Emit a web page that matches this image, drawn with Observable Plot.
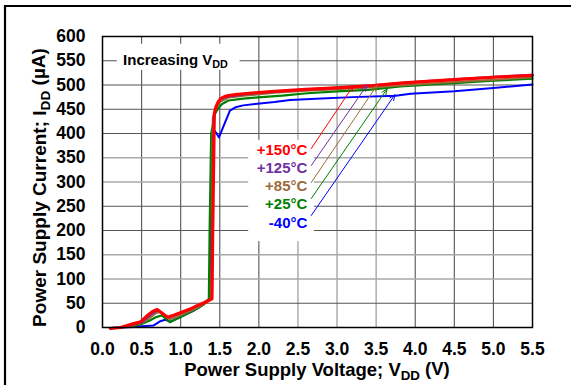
<!DOCTYPE html>
<html>
<head>
<meta charset="utf-8">
<script src="https://cdn.jsdelivr.net/npm/d3@7"></script>
<script src="https://cdn.jsdelivr.net/npm/@observablehq/plot@0.6"></script>
<style>
  html, body { margin: 0; padding: 0; background: #fff; }
  #chart { width: 571px; height: 385px; position: relative; }
  svg { overflow: visible; }
</style>
</head>
<body>
<div id="chart"></div>
<script>
// ---- Data ----
const xTicks = [0, 0.5, 1.0, 1.5, 2.0, 2.5, 3.0, 3.5, 4.0, 4.5, 5.0, 5.5];
const yTicks = [0, 50, 100, 150, 200, 250, 300, 350, 400, 450, 500, 550, 600];
const xGridDark = [0.5, 1.0, 1.5, 2.0, 4.0, 4.5, 5.0];
const xGridLight = [2.5, 3.0, 3.5];
const yGridDark = [50, 200, 250, 400, 450, 500, 550];
const yGridLight = [100, 150, 300, 350];

const seriesNames = ["+150°C", "+125°C", "+85°C", "+25°C", "-40°C"];
const seriesColors = ["#ff0000", "#7030a0", "#9c6b3a", "#008000", "#0000ff"];

// +150°C
const vRed = [0.10,0.23,0.40,0.49,0.57,0.64,0.70,0.76,0.83,0.92,1.02,1.12,1.21,1.30,1.40,1.41,1.43,1.45,1.48,1.51,1.56,1.61,1.70,1.80,1.95,2.20,2.60,3.00,3.40,3.81,4.20,4.60,5.00,5.50];
const iRed = [-2,0,8,12,24,33,37,30,21,26,32,38,45,51,59,200,440,455,465,472,476,478,480,482,484,487,491,494,498,504,508,512,516,520];
// +125°C
const vPur = [0.10,0.23,0.40,0.50,0.58,0.65,0.71,0.77,0.84,0.93,1.02,1.12,1.21,1.30,1.40,1.41,1.42,1.45,1.48,1.51,1.56,1.61,1.70,1.80,1.95,2.20,2.60,3.00,3.40,3.81,4.20,4.60,5.00,5.50];
const iPur = [-1,0,6,10,21,30,35,29,20,25,31,37,44,51,59,200,435,452,463,470,474,476,478,480,483,486,491,495,499,504,509,513,517,521];
// +85°C
const vBrn = [0.10,0.25,0.40,0.50,0.60,0.66,0.72,0.79,0.86,0.95,1.05,1.15,1.25,1.34,1.39,1.40,1.41,1.44,1.48,1.51,1.56,1.61,1.70,1.80,1.95,2.20,2.60,3.00,3.53,4.00,4.50,5.00,5.50];
const iBrn = [-1,0,5,9,19,27,32,26,17,22,29,36,44,53,59,200,430,448,460,466,470,474,476,478,480,484,488,491,496,501,506,511,516];
// +25°C
const vGrn = [0.10,0.25,0.40,0.50,0.60,0.68,0.76,0.81,0.86,0.95,1.05,1.20,1.30,1.36,1.37,1.39,1.44,1.48,1.53,1.61,1.80,1.95,2.30,2.62,3.00,3.40,3.81,4.50,5.00,5.50];
const iGrn = [-1,0,3,7,14,21,25,18,11,18,26,38,48,58,200,400,441,452,461,468,472,474,478,483,487,490,497,504,509,513];
// -40°C
const vBlu = [0.10,0.25,0.40,0.55,0.65,0.74,0.80,0.87,0.99,1.08,1.17,1.26,1.34,1.37,1.38,1.40,1.43,1.46,1.49,1.56,1.63,1.70,1.80,1.95,2.20,2.40,2.80,3.20,3.75,3.94,4.50,5.00,5.50];
const iBlu = [-2,0,1,3,4,13,16,12,21,28,35,44,56,60,200,380,406,400,392,420,447,454,458,461,465,469,472,475,478,482,487,494,501];

// label positions and arrows
const labelX = [2.62, 2.62, 2.62, 2.62, 2.62];
const labelY = [365, 328, 291, 254, 216];
const arrowX1 = [2.67, 2.67, 2.67, 2.67, 2.67];
const arrowY1 = [369, 334, 299, 266, 231];
const arrowX2 = [3.21, 3.38, 3.51, 3.64, 3.74];
const arrowY2 = [499, 499, 499, 492, 480];

const toPts = (xs, ys) => xs.map((x, i) => ({x, y: ys[i]}));
const seriesData = [toPts(vRed, iRed), toPts(vPur, iPur), toPts(vBrn, iBrn), toPts(vGrn, iGrn), toPts(vBlu, iBlu)];
const widths = [3.2, 2, 2, 2.2, 2];
const labels = seriesNames.map((name, i) => ({name, x: labelX[i], y: labelY[i], color: seriesColors[i]}));
const arrows = seriesNames.map((name, i) => ({x1: arrowX1[i], y1: arrowY1[i], x2: arrowX2[i], y2: arrowY2[i], color: seriesColors[i]}));

const FONT = "'Liberation Sans', Arial, Helvetica, sans-serif";

const lineMarks = [4, 3, 2, 1, 0].map(i =>
  Plot.line(seriesData[i], {x: "x", y: "y", stroke: seriesColors[i], strokeWidth: widths[i], strokeLinejoin: "round", strokeLinecap: "round"})
);

const chart = Plot.plot({
  width: 571,
  height: 385,
  marginLeft: 102,
  marginRight: 39,
  marginTop: 36,
  marginBottom: 58,
  style: {fontFamily: FONT, fontWeight: "bold", fontSize: "17.5px", color: "#000", background: "#fff"},
  x: {domain: [0, 5.5], ticks: xTicks, tickFormat: d => d.toFixed(1), tickSize: 0, tickPadding: 15, label: null},
  y: {domain: [0, 600], ticks: yTicks, tickFormat: d => String(d), tickSize: 0, tickPadding: 17, label: null},
  marks: [
    Plot.ruleX(xGridLight, {stroke: "#a0a0a0", strokeWidth: 1.3}),
    Plot.ruleX(xGridDark, {stroke: "#555", strokeWidth: 1.1}),
    Plot.ruleY(yGridLight, {stroke: "#a8a8a8", strokeWidth: 1.3}),
    Plot.ruleY(yGridDark, {stroke: "#555", strokeWidth: 1.1}),
    // white boxes behind annotation texts
    Plot.rect([{x1: 0.19, x2: 1.76, y1: 530, y2: 584}], {x1: "x1", x2: "x2", y1: "y1", y2: "y2", fill: "#fff"}),
    Plot.rect([{x1: 1.87, x2: 2.71, y1: 177, y2: 386}], {x1: "x1", x2: "x2", y1: "y1", y2: "y2", fill: "#fff"}),
    ...lineMarks,
    Plot.arrow(arrows, {x1: "x1", y1: "y1", x2: "x2", y2: "y2", stroke: "color", strokeWidth: 1, headLength: 9, headAngle: 45}),
    Plot.text(labels, {x: "x", y: "y", text: "name", fill: "color", textAnchor: "end", fontSize: 15, fontWeight: "bold", fontFamily: FONT}),
    Plot.frame({stroke: "#000", strokeWidth: 1.5})
  ]
});

document.getElementById("chart").appendChild(chart);

// Texts with subscripts, placed via the chart's own scales
const svg = d3.select(chart);
const sx = chart.scale("x"), sy = chart.scale("y");

function addSubText(g, parts) {
  parts.forEach(p => {
    const t = g.append("tspan").text(p.t);
    if (p.sub) t.attr("font-size", "72%").attr("dy", "0.28em");
    else if (p.after) t.attr("dy", "-0.28em");
  });
}

// "Increasing VDD"
const inc = svg.append("text")
  .attr("x", sx.apply(0.27)).attr("y", sy.apply(540))
  .attr("text-anchor", "start")
  .attr("font-family", FONT).attr("font-weight", "bold").attr("font-size", 15).attr("fill", "#000");
addSubText(inc, [{t: "Increasing V"}, {t: "DD", sub: true}]);

// x-axis label
const xl = svg.append("text")
  .attr("x", (sx.range[0] + sx.range[1]) / 2).attr("y", 376)
  .attr("text-anchor", "middle")
  .attr("font-family", FONT).attr("font-weight", "bold").attr("font-size", 18.5).attr("fill", "#000");
addSubText(xl, [{t: "Power Supply Voltage; V"}, {t: "DD", sub: true}, {t: " (V)", after: true}]);

// y-axis label
const yl = svg.append("text")
  .attr("transform", `translate(46,${(sy.range[0] + sy.range[1]) / 2 + 6}) rotate(-90)`)
  .attr("text-anchor", "middle")
  .attr("font-family", FONT).attr("font-weight", "bold").attr("font-size", 19).attr("fill", "#000");
addSubText(yl, [{t: "Power Supply Current; I"}, {t: "DD", sub: true}, {t: " (µA)", after: true}]);

// outer figure border (top and left)
svg.append("path").attr("d", "M5,385V6H571").attr("fill", "none").attr("stroke", "#000").attr("stroke-width", 2.2);
</script>
</body>
</html>
